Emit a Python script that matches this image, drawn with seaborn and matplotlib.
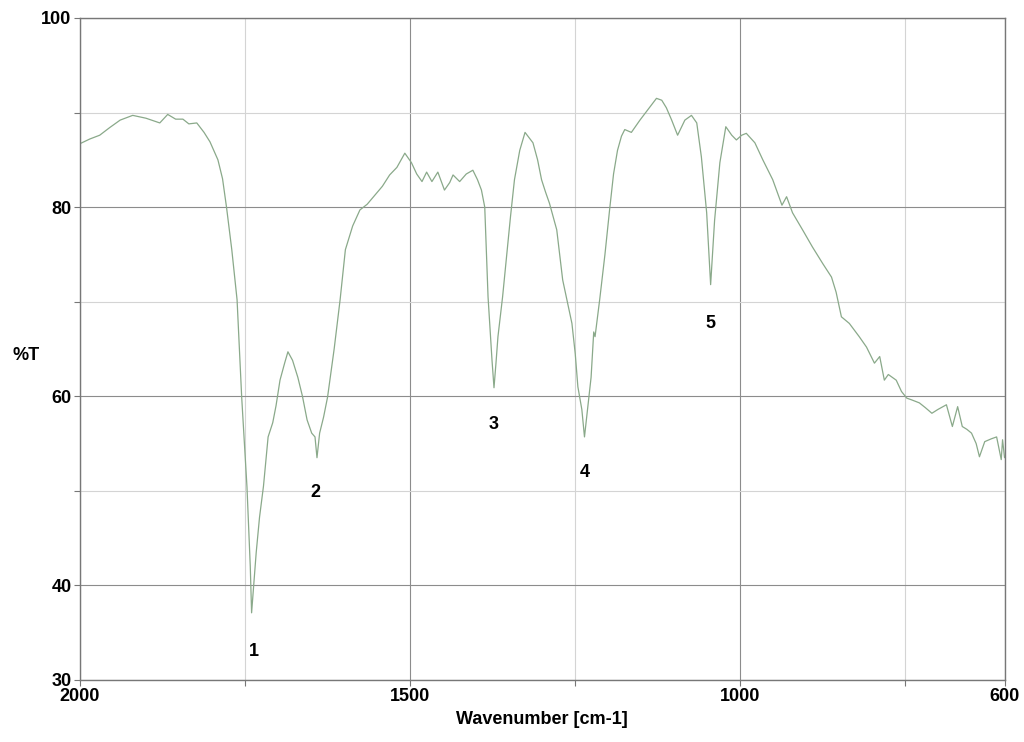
import numpy as np
import pandas as pd
import matplotlib
matplotlib.use("Agg")
import matplotlib.pyplot as plt
import seaborn as sns

# %%
# spectrum (wavenumber in cm-1, transmittance in %)
wavenumber = [
    2000, 1985, 1970, 1955, 1939, 1920, 1900, 1879, 1867, 1855, 1844, 1835, 1823,
    1812, 1803, 1791, 1784, 1778, 1770, 1762, 1755, 1747, 1742, 1740, 1737, 1733,
    1728, 1722, 1715, 1708, 1703, 1697, 1690, 1685, 1678, 1670, 1663, 1656, 1649,
    1644, 1641, 1637, 1631, 1625, 1615, 1606, 1598, 1587, 1576, 1565, 1553, 1542,
    1531, 1520, 1516, 1508, 1498, 1490, 1482, 1475, 1467, 1458, 1448, 1440, 1435,
    1425, 1415, 1405, 1398, 1392, 1387, 1382, 1376, 1373, 1370, 1367, 1360, 1354,
    1348, 1342, 1334, 1326, 1314, 1307, 1301, 1295, 1289, 1278, 1269, 1262, 1255,
    1250, 1246, 1240, 1236, 1231, 1226, 1222, 1220, 1213, 1205, 1198, 1192, 1186,
    1180, 1175, 1165, 1152, 1140, 1127, 1119, 1112, 1104, 1095, 1084, 1074, 1066,
    1059, 1051, 1045, 1039, 1031, 1022, 1013, 1006, 998, 991, 978, 966, 951, 937,
    930, 921, 905, 891, 875, 862, 855, 847, 835, 820, 809, 797, 789, 782, 776, 770,
    764, 756, 748, 740, 729, 720, 710, 701, 688, 679, 671, 664, 657, 650, 643, 638,
    630, 620, 612, 605, 603, 600,
]
transmittance = [
    86.7, 87.2, 87.6, 88.4, 89.2, 89.7, 89.4, 88.9, 89.8, 89.3, 89.3, 88.8, 88.9,
    87.9, 86.9, 85.0, 83.0, 80.0, 75.5, 70.2, 59.9, 50.4, 42.0, 37.1, 39.8, 43.5,
    47.2, 50.5, 55.7, 57.2, 59.0, 61.7, 63.5, 64.7, 63.8, 62.0, 60.0, 57.5, 56.1,
    55.7, 53.5, 56.1, 57.8, 59.9, 65.0, 70.2, 75.5, 78.0, 79.7, 80.3, 81.3, 82.2,
    83.4, 84.2, 84.7, 85.7, 84.7, 83.5, 82.7, 83.7, 82.7, 83.7, 81.8, 82.6, 83.4,
    82.7, 83.5, 83.9, 82.9, 81.8, 80.0, 70.5, 63.8, 60.9, 63.5, 66.3, 70.5, 74.7,
    79.0, 82.9, 86.0, 87.9, 86.8, 85.0, 82.9, 81.6, 80.4, 77.6, 72.3, 70.0, 67.7,
    64.5, 61.0, 58.6, 55.7, 58.9, 62.0, 66.8, 66.3, 70.2, 75.0, 79.7, 83.5, 86.0,
    87.5, 88.2, 87.9, 89.2, 90.3, 91.5, 91.3, 90.5, 89.2, 87.6, 89.2, 89.7, 88.9,
    85.3, 79.4, 71.8, 78.6, 84.7, 88.5, 87.6, 87.1, 87.6, 87.8, 86.8, 85.0, 82.9, 80.2,
    81.1, 79.4, 77.5, 75.8, 74.0, 72.6, 71.0, 68.4, 67.7, 66.3, 65.2, 63.5, 64.2, 61.7, 62.3, 62.0,
    61.7, 60.5, 59.8, 59.6, 59.3, 58.8, 58.2, 58.6, 59.1, 56.8, 58.9, 56.8, 56.5, 56.1, 55.0, 53.6,
    55.2, 55.5, 55.7, 53.3, 55.4, 53.5,
]

# peak labels
peak_labels = ["1", "2", "3", "4", "5"]
peak_x = [1736, 1643, 1373, 1236, 1046]
peak_y = [33.0, 49.8, 57.0, 51.9, 67.7]

x_major = [2000, 1500, 1000, 600]
x_minor = [1750, 1250, 750]
y_major = [30, 40, 60, 80, 100]
y_minor = [50, 70, 90]

# %%
sns.set_style("white")
plt.rcParams["font.family"] = ["Liberation Sans", "DejaVu Sans"]
plt.rcParams["text.color"] = "black"
plt.rcParams["axes.labelcolor"] = "black"
plt.rcParams["xtick.labelcolor"] = "black"
plt.rcParams["ytick.labelcolor"] = "black"

df = pd.DataFrame({"wavenumber": wavenumber, "T": transmittance})

fig = plt.figure(figsize=(10.24, 7.42), dpi=100)
ax = fig.add_axes([0.078, 0.0836, 0.903, 0.8922])

sns.lineplot(data=df, x="wavenumber", y="T", ax=ax, color="#8aa98a",
             linewidth=0.9, estimator=None, sort=False)

ax.set_xlim(2000, 600)
ax.set_ylim(30, 100)

ax.set_xticks(x_major)
ax.set_xticks(x_minor, minor=True)
ax.set_yticks(y_major)
ax.set_yticks(y_minor, minor=True)
ax.set_xticklabels([str(v) for v in x_major], fontsize=13, fontweight="bold")
ax.set_yticklabels([str(v) for v in y_major], fontsize=13, fontweight="bold")

ax.grid(which="major", color="#8c8c8c", linewidth=0.8)
ax.grid(which="minor", color="#d4d4d4", linewidth=0.8)
ax.set_axisbelow(True)
ax.tick_params(which="both", direction="out", length=4, width=0.8,
               color="#777777", left=True, bottom=True, pad=2)

for s in ax.spines.values():
    s.set_color("#777777")
    s.set_linewidth(1.0)

ax.set_xlabel("Wavenumber [cm-1]", fontsize=13, fontweight="bold", labelpad=4)
ax.set_ylabel("%T", fontsize=13, fontweight="bold", rotation=0, ha="center", va="center")
ax.yaxis.set_label_coords(-0.058, 0.49)

for lab, px, py in zip(peak_labels, peak_x, peak_y):
    ax.text(px, py, lab, fontsize=13, fontweight="bold", ha="center", va="center")

fig.savefig("out.png", dpi=100)
